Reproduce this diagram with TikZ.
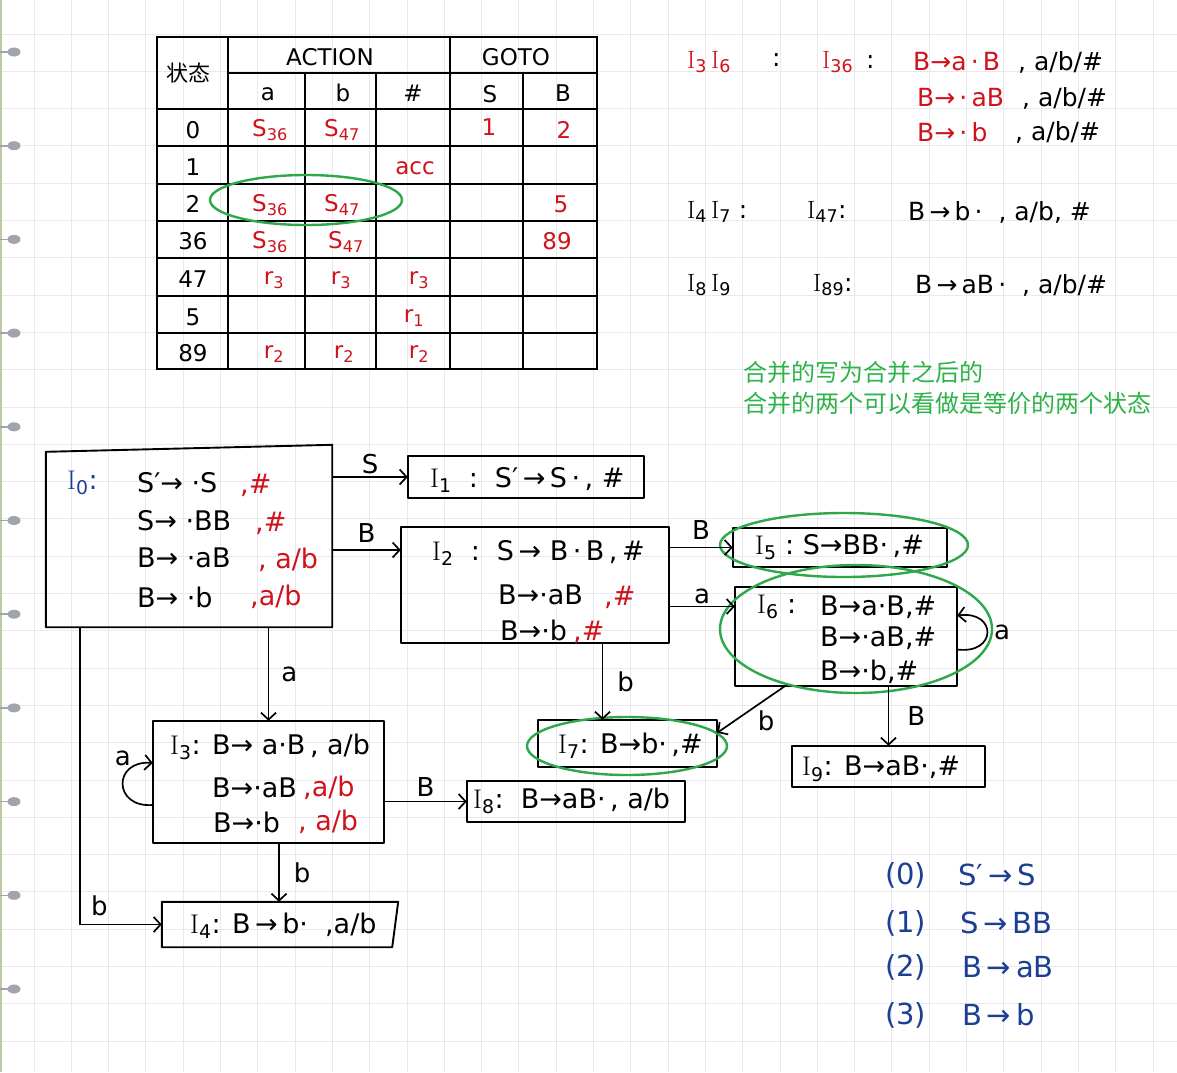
\documentclass[tikz,border=0pt]{standalone}
\usepackage{fontspec}
\setsansfont{DejaVu Sans}
\newfontfamily\cjk{Noto Sans CJK SC}
\newfontfamily\dv{DejaVu Sans}
\usetikzlibrary{arrows.meta,fit}
\definecolor{hred}{HTML}{D0121C}
\definecolor{hgreen}{HTML}{2DB34A}
\definecolor{ellg}{HTML}{2EA84A}
\definecolor{hblue}{HTML}{1C3F94}
\definecolor{gridc}{HTML}{E8E8EE}
\definecolor{dotc}{HTML}{A3A3AB}
\definecolor{marg}{HTML}{B9CCA6}
\newcommand{\rarr}{{\dv →}}
\newcommand{\prm}{{\dv ′}}
\newcommand{\II}[1]{{\rmfamily I}\textsubscript{#1}}
\tikzset{
  boxn/.style={inner sep=0pt},
  boxl/.style={draw, line width=1.9pt, line join=round},
  tx/.style={anchor=west, inner sep=0pt, font=\sffamily\fontsize{27}{30}\selectfont},
  tr/.style={anchor=west, inner sep=0pt, font=\sffamily\fontsize{25}{30}\selectfont},
  tc/.style={anchor=center, inner sep=0pt, font=\sffamily\fontsize{23}{28}\selectfont},
  rd/.style={text=hred},
  arr/.style={line width=1.7pt, -{Straight Barb[length=7pt,width=15pt,line width=1.7pt]}},
  lab/.style={inner sep=0pt, font=\sffamily\fontsize{26}{30}\selectfont},
  ell/.style={draw=ellg, line width=2.4pt},
  tab/.style={line width=2pt},
  pr/.style={anchor=west, inner sep=0pt, text=hblue, font=\sffamily\fontsize{29}{32}\selectfont},
}
\begin{document}
\begin{tikzpicture}[x=1pt,y=-1pt]
\useasboundingbox (0,0) rectangle (1177,1072);
\fill[white] (0,0) rectangle (1177,1072);
% grid paper
\foreach \i in {0,...,30} \draw[gridc, line width=1pt] ({34+37.3*\i},0) -- ({34+37.3*\i},1072);
\foreach \j in {0,...,27} \draw[gridc, line width=1pt] (0,{34+37.3*\j}) -- (1177,{34+37.3*\j});
% margin
\draw[marg, line width=2pt] (1,0) -- (1,1072);
\foreach \k in {0,...,10} {
  \draw[dotc, line width=1.6pt] (0,{52+93.7*\k}) -- (10,{52+93.7*\k});
  \fill[dotc] (14,{52+93.7*\k}) ellipse [x radius=6.5pt, y radius=4.5pt];
}
% ---------------- table ----------------
\draw[tab] (157,37) rectangle (597,369);
\draw[tab] (228,37) -- (228,369);
\draw[tab] (450,37) -- (450,369);
\foreach \x in {305,376,523} \draw[tab] (\x,73) -- (\x,369);
\draw[tab] (228,73) -- (597,73);
\foreach \y in {109,146,184,221,258,296,333} \draw[tab] (157,\y) -- (597,\y);
\node[tc, font=\cjk\fontsize{22}{24}\selectfont] (hz) at (188,73) {状态};
\node[tc] (hac) at (330,57) {ACTION};
\node[tc] (hgo) at (516,57) {GOTO};
\node[tc] (ha) at (268,94) {a};
\node[tc] (hb) at (343,93) {b};
\node[tc] (hh) at (413,93) {\#};
\node[tc] (hS) at (490,94) {S};
\node[tc] (hB) at (563,93) {B};
\node[tc] (s0) at (193,130) {0};
\node[tc] (s1) at (193,167) {1};
\node[tc] (s2) at (193,204) {2};
\node[tc] (s36) at (193,241) {36};
\node[tc] (s47) at (193,279) {47};
\node[tc] (s5) at (193,317) {5};
\node[tc] (s89) at (193,353) {89};
\node[tc,rd] (e0a) at (270,130) {S\textsubscript{36}};
\node[tc,rd] (e0b) at (342,130) {S\textsubscript{47}};
\node[tc,rd] (e0S) at (489,127) {1};
\node[tc,rd] (e0B) at (564,130) {2};
\node[tc,rd] (e1h) at (415,168) {acc};
\node[tc,rd] (e2a) at (270,205) {S\textsubscript{36}};
\node[tc,rd] (e2b) at (342,205) {S\textsubscript{47}};
\node[tc,rd] (e2B) at (561,204) {5};
\node[tc,rd] (e3a) at (270,242) {S\textsubscript{36}};
\node[tc,rd] (e3b) at (346,242) {S\textsubscript{47}};
\node[tc,rd] (e3B) at (557,241) {89};
\node[tc,rd] (e4a) at (274,280) {r\textsubscript{3}};
\node[tc,rd] (e4b) at (341,280) {r\textsubscript{3}};
\node[tc,rd] (e4h) at (419,280) {r\textsubscript{3}};
\node[tc,rd] (e5h) at (414,318) {r\textsubscript{1}};
\node[tc,rd] (e6a) at (274,354) {r\textsubscript{2}};
\node[tc,rd] (e6b) at (344,354) {r\textsubscript{2}};
\node[tc,rd] (e6h) at (419,354) {r\textsubscript{2}};
\draw[ell] (306,200) ellipse [x radius=96pt, y radius=25pt];
% ---------------- top right ----------------
\node[tr,rd] (q1) at (687,62) {\II{3}\,\II{6}};
\node[tr] (q1c) at (772,60) {:};
\node[tr,rd] (q2) at (822,62) {\II{36}};
\node[tr] (q2c) at (866,62) {:};
\node[tr,rd] (q3) at (913,62) {B\rarr a\,·\,B};
\node[tr] (q3b) at (1018,62) {, a/b/\#};
\node[tr,rd] (q4) at (917,98) {B\rarr\,·\,aB};
\node[tr] (q4b) at (1022,98) {, a/b/\#};
\node[tr,rd] (q5) at (917,132) {B\rarr\,·\,b};
\node[tr] (q5b) at (1015,132) {, a/b/\#};
\node[tr] (q6) at (687,212) {\II{4}\,\II{7} :};
\node[tr] (q6b) at (807,212) {\II{47}:};
\node[tr] (q6c) at (908,212) {B\,\rarr\,b\,·\ \ , a/b, \#};
\node[tr] (q7) at (687,285) {\II{8}\,\II{9}};
\node[tr] (q7b) at (813,285) {\II{89}:};
\node[tr] (q7c) at (915,285) {B\,\rarr\,aB\,·\ \ , a/b/\#};
% green notes
\node[anchor=west, inner sep=0pt, text=hgreen, font=\cjk\fontsize{24}{26}\selectfont] (g1) at (743,372) {合并的写为合并之后的};
\node[anchor=west, inner sep=0pt, text=hgreen, font=\cjk\fontsize{24}{26}\selectfont] (g2) at (743,403) {合并的两个可以看做是等价的两个状态};
% ---------------- item sets ----------------
% I0
\node[boxn, fit={(46,448) (332,627)}] (I0) {};
\draw[boxl] ([yshift=-4pt]I0.north west) -- ([yshift=3pt]I0.north east) -- (I0.south east) -- (I0.south west) -- cycle;
\node[tx,text=hblue] (I0l) at (67,483) {\II{0}:};
\node[tx] (I0a) at (137,483) {S\prm\rarr\ ·S};
\node[tx,rd] (I0ar) at (240,485) {,\#};
\node[tx] (I0b) at (137,521) {S\rarr\ ·BB};
\node[tx,rd] (I0br) at (255,523) {,\#};
\node[tx] (I0c) at (137,558) {B\rarr\ ·aB};
\node[tx,rd] (I0cr) at (258,560) {, a/b};
\node[tx] (I0d) at (137,597) {B\rarr\ ·b};
\node[tx,rd] (I0dr) at (250,597) {,a/b};
% I1
\node[boxn, fit={(408,456) (644,498)}] (I1) {};
\draw[boxl] (I1.north west) rectangle (I1.south east);
\node[tx] (I1t) at (430,480) {\II{1}\ \ :\ \ S\prm\,\rarr\,S\,·\,,\ \#};
% I2
\node[boxn, fit={(401,527) (669,643)}] (I2) {};
\draw[boxl] (I2.north west) rectangle (I2.south east);
\node[tx] (I2a) at (432,553) {\II{2}\ \ :\ \ S\,\rarr\ B\,·\,B\,,\,\#};
\node[tx] (I2b) at (498,595) {B\rarr·aB};
\node[tx,rd] (I2br) at (604,597) {,\#};
\node[tx] (I2c) at (500,630) {B\rarr·b};
\node[tx,rd] (I2cr) at (573,632) {,\#};
% I5
\node[boxn, fit={(733,528) (947,567)}] (I5) {};
\draw[boxl] (I5.north west) rectangle (I5.south east);
\node[tx] (I5t) at (755,547) {\II{5}\ :\ S\rarr BB·\,,\#};
% I6
\node[boxn, fit={(735,587) (957,686)}] (I6) {};
\draw[boxl] (I6.north west) rectangle (I6.south east);
\node[tx] (I6l) at (757,607) {\II{6}\ :};
\node[tx] (I6a) at (820,607) {B\rarr a·B,\#};
\node[tx] (I6b) at (820,638) {B\rarr·aB,\#};
\node[tx] (I6c) at (820,672) {B\rarr·b,\#};
% I7
\node[boxn, fit={(538,720) (717,767)}] (I7) {};
\draw[boxl] (I7.north west) rectangle (I7.south east);
\node[tx] (I7t) at (558,746) {\II{7}: B\rarr b·\,,\#};
% I9
\node[boxn, fit={(792,746) (985,787)}] (I9) {};
\draw[boxl] (I9.north west) rectangle (I9.south east);
\node[tx] (I9t) at (802,769) {\II{9}: B\rarr aB·,\#};
% I3
\node[boxn, fit={(153,721) (384,843)}] (I3) {};
\draw[boxl] (I3.north west) rectangle (I3.south east);
\node[tx] (I3a) at (170,747) {\II{3}: B\rarr\ a·B\,, a/b};
\node[tx] (I3b) at (212,788) {B\rarr·aB};
\node[tx,rd] (I3br) at (303,788) {,a/b};
\node[tx] (I3c) at (213,822) {B\rarr·b};
\node[tx,rd] (I3cr) at (298,822) {, a/b};
% I8
\node[boxn, fit={(467,781) (685,822)}] (I8) {};
\draw[boxl] (I8.north west) rectangle (I8.south east);
\node[tx] (I8t) at (473,801) {\II{8}:\ \ B\rarr aB·\,,\ a/b};
% I4
\node[boxn, fit={(162,902) (396,947)}] (I4) {};
\draw[boxl] (I4.north west) -- ([xshift=2pt]I4.north east) -- ([xshift=-4pt]I4.south east) -- (I4.south west) -- cycle;
\node[tx] (I4t) at (190,926) {\II{4}: B\,\rarr\,b·\ \ ,a/b};
% green ellipses
\draw[ell] (844,545) ellipse [x radius=124pt, y radius=32pt];
\draw[ell] (856,629) ellipse [x radius=136pt, y radius=64pt];
\draw[ell] (627,746) ellipse [x radius=100pt, y radius=29pt];
% ---------------- transitions ----------------
\coordinate (a2) at ([yshift=35pt]I2.west);
\coordinate (a6) at ([yshift=30pt]I6.west);
\coordinate (t7) at ([xshift=-25pt]I7.north);
\draw[arr] (I0.east |- I1.west) -- node[lab, above=2pt] (lS) {S} (I1.west);
\draw[arr] (I0.east |- a2) -- node[lab, above=7pt] (lB1) {B} (a2);
\draw[arr] (I0.south -| I3.north) -- node[lab, right=12pt] (la1) {a} (I3.north);
\draw[arr] ([xshift=34pt]I0.south west) |- node[lab, pos=0.62, above=8pt] (lb1) {b} (I4.west);
\draw[arr] (I2.east |- I5.west) -- node[lab, above=7pt] (lB2) {B} (I5.west);
\draw[arr] (I2.east |- a6) -- node[lab, above=2pt] (la2) {a} (a6);
\draw[arr] (I2.south -| t7) -- node[lab, right=14pt] (lb2) {b} (t7);
\draw[arr] ([xshift=50pt]I6.south west) -- node[lab, anchor=north west, xshift=6pt] (lb3) {b} ([yshift=-13pt]I7.north east);
\draw[arr] (I6.south -| I9.north) -- node[lab, right=18pt] (lB3) {B} (I9.north);
\draw[arr] ([yshift=-13pt]I6.east) .. controls +(40pt,-5pt) and +(40pt,5pt) .. node[lab, right=6pt] (la3) {a} ([yshift=21pt]I6.east);
\draw[arr] ([yshift=-23pt]I3.west) .. controls +(-40pt,-3pt) and +(-40pt,3pt) .. node[lab, pos=0.8, anchor=south east, xshift=-2pt] (la4) {a} ([yshift=19pt]I3.west);
\draw[arr] (I3.east |- I8.west) -- node[lab, above=4pt] (lB4) {B} (I8.west);
\draw[arr] (I3.south -| I4.north) -- node[lab, right=14pt] (lb4) {b} (I4.north);
% ---------------- productions ----------------
\node[pr] (p0) at (885,875) {(0)};
\node[pr] (p0r) at (958,875) {S\prm\,\rarr\,S};
\node[pr] (p1) at (885,923) {(1)};
\node[pr] (p1r) at (960,923) {S\,\rarr\,BB};
\node[pr] (p2) at (885,967) {(2)};
\node[pr] (p2r) at (962,967) {B\,\rarr\,aB};
\node[pr] (p3) at (885,1015) {(3)};
\node[pr] (p3r) at (962,1015) {B\,\rarr\,b};
\end{tikzpicture}
\end{document}
